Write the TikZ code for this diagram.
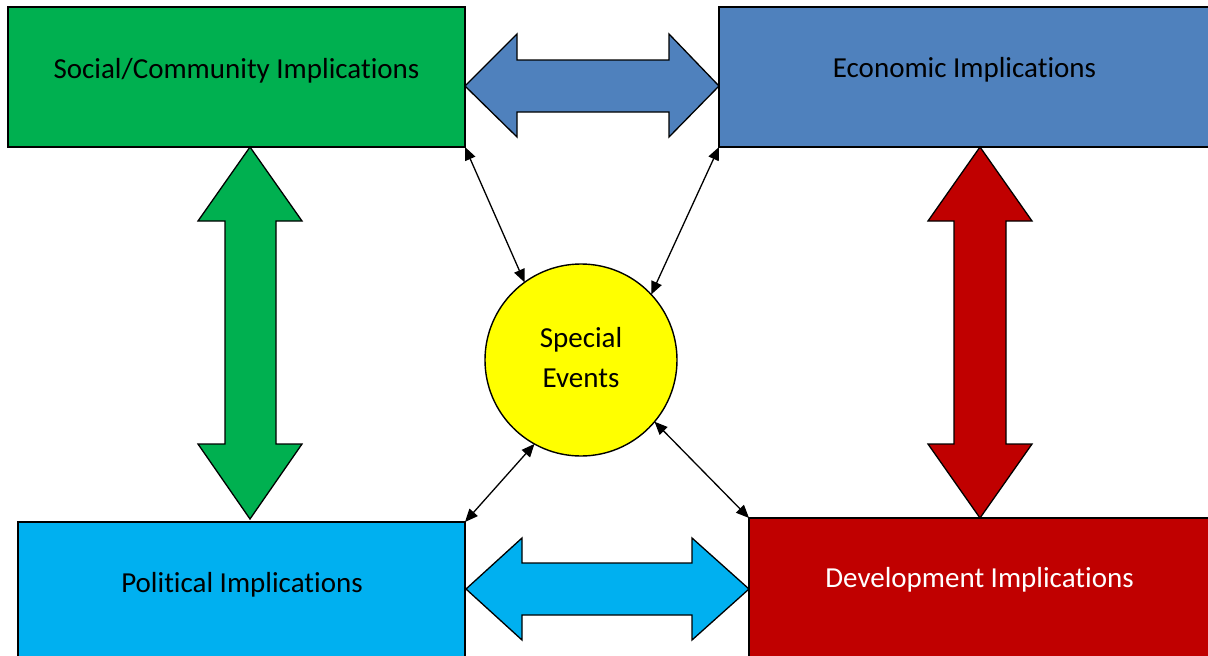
\documentclass[tikz,border=0pt]{standalone}
\usepackage{fontspec}
\setmainfont{Carlito}[RawFeature={-liga;-clig}]
\usetikzlibrary{arrows.meta}
\definecolor{socgreen}{HTML}{00B050}
\definecolor{ecoblue}{HTML}{4F81BD}
\definecolor{polblue}{HTML}{00B0F0}
\definecolor{devred}{HTML}{C00000}
\definecolor{evyellow}{HTML}{FFFF00}
\tikzset{
  box/.style={draw=black, line width=1.3pt, inner sep=0pt, outer sep=0pt, anchor=north west},
  lbl/.style={anchor=base, inner sep=0pt, font=\fontsize{29}{40}\selectfont},
  bigarrow/.style={draw=black, line width=1.3pt, line join=miter},
  conn/.style={line width=1.3pt, {Triangle[length=13pt,width=11pt]}-{Triangle[length=13pt,width=11pt]}},
}
\begin{document}
\begin{tikzpicture}[x=1pt,y=-1pt]
\useasboundingbox (0,0) rectangle (1208,656);
\clip (0,0) rectangle (1208,656);
% boxes
\node[box, fill=socgreen, minimum width=457pt, minimum height=140pt] (soc) at (8,7) {};
\node[box, fill=ecoblue, minimum width=495pt, minimum height=140pt] (eco) at (719,7) {};
\node[box, fill=polblue, minimum width=447pt, minimum height=150pt] (pol) at (18,522) {};
\node[box, fill=devred, minimum width=465pt, minimum height=150pt] (dev) at (749,518) {};
% labels
\node[lbl] (soct) at (236.5,78) {Social/Community Implications};
\node[lbl] (ecot) at (964.5,77) {Economic Implications};
\node[lbl] (polt) at (242,592) {Political Implications};
\node[lbl, text=white] (devt) at (979.5,587) {Development Implications};
% big double arrows
\draw[bigarrow, fill=ecoblue] (465,86) -- (517,34) -- (517,60) -- (669,60) -- (669,34) -- (719,86)
  -- (669,137) -- (669,112) -- (517,112) -- (517,137) -- cycle;
\draw[bigarrow, fill=polblue] (466,589) -- (522,538) -- (522,563) -- (692,563) -- (692,538) -- (749,589)
  -- (692,640) -- (692,615) -- (522,615) -- (522,640) -- cycle;
\draw[bigarrow, fill=socgreen] (250,147) -- (302,221) -- (276,221) -- (276,444) -- (302,444) -- (250,519)
  -- (198,444) -- (225,444) -- (225,221) -- (198,221) -- cycle;
\draw[bigarrow, fill=devred] (980,147) -- (1032,221) -- (1006,221) -- (1006,444) -- (1032,444) -- (980,518)
  -- (928,444) -- (954,444) -- (954,221) -- (928,221) -- cycle;
% center circle
\node[circle, draw=black, line width=1.4pt, fill=evyellow, minimum size=192pt, inner sep=0pt, outer sep=0pt] (se) at (581,360) {};
\node[align=center, inner sep=0pt, font=\fontsize{29}{40}\selectfont] (set) at (581,357.6) {Special\\Events};
% thin connectors
\draw[conn] (soc.south east) -- (se.126.7);
\draw[conn] (eco.south west) -- (se.43.7);
\draw[conn] (pol.north east) -- (se.241.3);
\draw[conn] (dev.north west) -- (se.320.7);
\end{tikzpicture}
\end{document}
